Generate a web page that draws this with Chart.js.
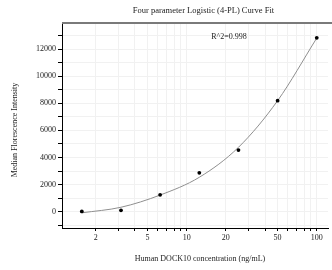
<!DOCTYPE html>
<html>
<head>
<meta charset="utf-8">
<script src="https://cdn.jsdelivr.net/npm/chart.js@4/dist/chart.umd.min.js"></script>
<style>
  html, body { margin: 0; padding: 0; background: #fff; }
  #wrap { width: 332px; height: 270px; position: relative; }
</style>
</head>
<body>
<div id="wrap"><canvas id="c" width="332" height="270"></canvas></div>
<script>
// ---- data ----
const concentrations = [1.5625, 3.125, 6.25, 12.5, 25, 50, 100];
const mfiValues = [20, 100, 1250, 2870, 4550, 8190, 12830];
const fitCurveX = [1.5625, 3.125, 6.25, 12.5, 25, 50, 100];
const fitCurveY = [-80, 330, 1230, 2540, 4750, 8190, 12810];
const xTickValues = [2, 3, 4, 5, 6, 7, 8, 9, 10, 20, 30, 40, 50, 60, 70, 80, 90, 100];
const xTickLabels = ['2', '5', '10', '20', '50', '100'];
const yTickValues = [-1000, 0, 1000, 2000, 3000, 4000, 5000, 6000, 7000, 8000, 9000, 10000, 11000, 12000, 13000];
const yTickLabels = ['0', '2000', '4000', '6000', '8000', '10000', '12000'];
const titleText = 'Four parameter Logistic (4-PL) Curve Fit';
const xTitle = 'Human DOCK10 concentration (ng/mL)';
const yTitle = 'Median Florescence Intensity';
const r2Text = 'R^2=0.998';

const SERIF = '"Liberation Serif", "DejaVu Serif", serif';

const textPlugin = {
  id: 'texts',
  afterDraw(chart) {
    const ctx = chart.ctx;
    const a = chart.chartArea;
    ctx.save();
    // top frame line
    ctx.strokeStyle = '#7a7a7a';
    ctx.lineWidth = 2;
    ctx.beginPath();
    ctx.moveTo(a.left, a.top);
    ctx.lineTo(chart.width, a.top);
    ctx.stroke();

    ctx.fillStyle = '#222';
    ctx.textAlign = 'center';
    ctx.textBaseline = 'middle';
    ctx.font = '8.5px ' + SERIF;
    ctx.fillText(titleText, 203.5, 11);
    ctx.font = '8px ' + SERIF;
    ctx.fillText(xTitle, 200, 258.5);
    ctx.fillText(r2Text, 229, 37);
    ctx.translate(15, 130);
    ctx.rotate(-Math.PI / 2);
    ctx.fillText(yTitle, 0, 0);
    ctx.restore();
  }
};

new Chart(document.getElementById('c'), {
  type: 'scatter',
  data: {
    datasets: [
      {
        label: 'fit',
        data: fitCurveX.map((x, i) => ({ x: x, y: fitCurveY[i] })),
        showLine: true,
        borderColor: '#8f8f8f',
        borderWidth: 1,
        pointRadius: 0,
        cubicInterpolationMode: 'monotone',
        order: 2
      },
      {
        label: 'MFI',
        data: concentrations.map((x, i) => ({ x: x, y: mfiValues[i] })),
        showLine: false,
        backgroundColor: '#000',
        borderColor: '#000',
        pointRadius: 1.9,
        pointBorderWidth: 0,
        order: 1
      }
    ]
  },
  options: {
    responsive: false,
    animation: false,
    devicePixelRatio: 1,
    layout: { padding: { left: 0, right: 0, top: 23, bottom: 0 } },
    plugins: { legend: { display: false }, tooltip: { enabled: false }, title: { display: false } },
    scales: {
      x: {
        type: 'logarithmic',
        min: 1.1,
        max: 122,
        afterBuildTicks(scale) { scale.ticks = xTickValues.map(v => ({ value: v })); },
        afterFit(scale) { scale.height = 42; },
        ticks: {
          autoSkip: false,
          maxRotation: 0,
          padding: 2,
          color: '#222',
          font: { family: SERIF, size: 8 },
          callback(v) { return xTickLabels.includes(String(v)) ? String(v) : ''; }
        },
        grid: { color: '#f1f1f1', lineWidth: 1, tickLength: 3, tickColor: '#000', drawTicks: true },
        border: { color: '#000', width: 1 }
      },
      y: {
        type: 'linear',
        min: -1200,
        max: 13920,
        afterBuildTicks(scale) { scale.ticks = yTickValues.map(v => ({ value: v })); },
        afterFit(scale) { scale.width = 62; },
        ticks: {
          autoSkip: false,
          padding: 2,
          color: '#222',
          font: { family: SERIF, size: 8 },
          callback(v) { return yTickLabels.includes(String(v)) ? String(v) : ''; }
        },
        grid: { color: '#f1f1f1', lineWidth: 1, tickLength: 4, tickColor: '#000', drawTicks: true },
        border: { color: '#000', width: 1 }
      }
    }
  },
  plugins: [textPlugin]
});
</script>
</body>
</html>
